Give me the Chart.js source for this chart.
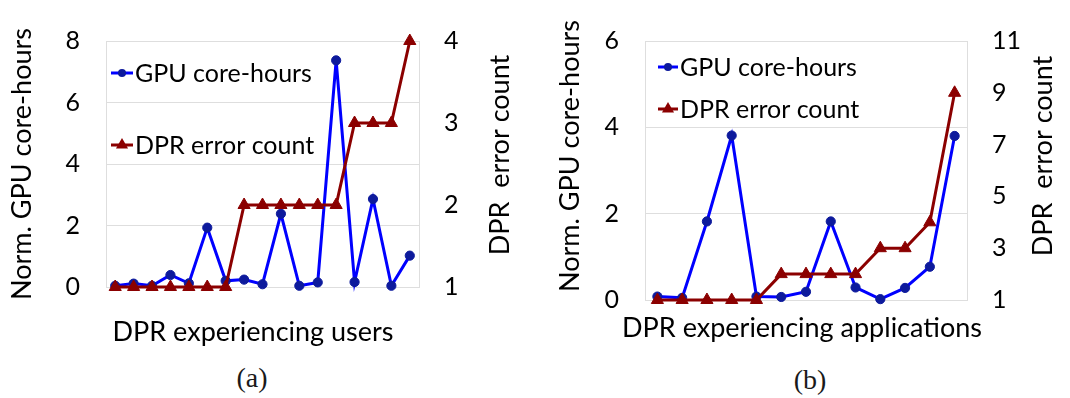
<!DOCTYPE html>
<html>
<head>
<meta charset="utf-8">
<script src="https://cdn.jsdelivr.net/npm/chart.js@4"></script>
<style>
  html, body { margin: 0; padding: 0; background: #fff; }
  body { width: 1070px; height: 398px; position: relative; overflow: hidden; }
  .panel { position: absolute; top: 0; width: 535px; height: 350px; }
  .cap { position: absolute; font-family: "Liberation Serif", "DejaVu Serif", serif; font-size: 28px;
         color: #1a1a1a; transform: translate(-50%, -50%); white-space: nowrap; }
</style>
</head>
<body>
<div class="panel" style="left:0"><canvas id="users"></canvas></div>
<div class="panel" style="left:535px"><canvas id="apps"></canvas></div>
<div class="cap" style="left:252px;top:378px">(a)</div>
<div class="cap" style="left:810px;top:380px">(b)</div>
<script>
// (a) one entry per user that hit a DPR error
const userLabels = ['u1','u2','u3','u4','u5','u6','u7','u8','u9','u10','u11','u12','u13','u14','u15','u16','u17'];
const userCoreHours = [0.04, 0.11, 0.04, 0.39, 0.12, 1.93, 0.20, 0.24, 0.09, 2.38, 0.04, 0.15, 7.37, 0.16, 2.86, 0.04, 1.02];
const userErrors    = [1, 1, 1, 1, 1, 1, 1, 2, 2, 2, 2, 2, 2, 3, 3, 3, 4];
const userHourTicks  = [0, 2, 4, 6, 8];
const userErrorTicks = [1, 2, 3, 4];

// (b) one entry per application that hit a DPR error
const appLabels = ['a1','a2','a3','a4','a5','a6','a7','a8','a9','a10','a11','a12','a13'];
const appCoreHours = [0.08, 0.05, 1.82, 3.81, 0.08, 0.07, 0.19, 1.82, 0.29, 0.02, 0.28, 0.77, 3.80];
const appErrors    = [1, 1, 1, 1, 1, 2, 2, 2, 2, 3, 3, 4, 9];
const appHourTicks  = [0, 2, 4, 6];
const appErrorTicks = [1, 3, 5, 7, 9, 11];

const seriesNames = ['GPU core-hours', 'DPR error count'];
const hoursTitle = 'Norm. GPU core-hours';
const errorsTitle = 'DPR  error count';

const FONT = 'Lato, "Open Sans", sans-serif';
const TEXT = '#000';
const BLUE_LINE = '#0000ff';
const BLUE_DOT = '#0d1a9c';
const RED = '#8b0000';
const GRID = '#dedede';

// Titles drawn on canvas (the right-hand title reads bottom-to-top like the left one)
const axisTitles = {
  id: 'axisTitles',
  afterDraw(chart, args, opts) {
    const ctx = chart.ctx;
    ctx.save();
    ctx.fillStyle = TEXT;
    ctx.textAlign = 'center';
    ctx.textBaseline = 'middle';
    for (const t of opts.items) {
      ctx.save();
      ctx.font = t.font;
      ctx.translate(t.x, t.y);
      if (t.vertical) ctx.rotate(-Math.PI / 2);
      ctx.fillText(t.text, 0, 0);
      ctx.restore();
    }
    ctx.restore();
  }
};

// Legend placed inside the plot area: a short line with the marker on it
const insetLegend = {
  id: 'insetLegend',
  afterDatasetsDraw(chart, args, opts) {
    const { ctx, chartArea } = chart;
    const x0 = chartArea.left + opts.left;
    const len = opts.lineLength;
    chart.data.datasets.forEach((ds, i) => {
      const y = chartArea.top + opts.rows[i];
      const cx = x0 + len / 2;
      ctx.save();
      ctx.strokeStyle = ds.borderColor;
      ctx.lineWidth = ds.borderWidth;
      ctx.beginPath();
      ctx.moveTo(x0, y);
      ctx.lineTo(x0 + len, y);
      ctx.stroke();
      ctx.fillStyle = ds.pointBackgroundColor;
      ctx.beginPath();
      if (ds.pointStyle === 'triangle') {
        const r = opts.triangleRadius;
        ctx.moveTo(cx, y - r);
        ctx.lineTo(cx + r * Math.sin(2 * Math.PI / 3), y + r / 2);
        ctx.lineTo(cx - r * Math.sin(2 * Math.PI / 3), y + r / 2);
        ctx.closePath();
      } else {
        ctx.arc(cx, y, opts.circleRadius, 0, Math.PI * 2);
      }
      ctx.fill();
      ctx.fillStyle = TEXT;
      ctx.font = opts.font;
      ctx.textAlign = 'left';
      ctx.textBaseline = 'middle';
      ctx.fillText(ds.label, x0 + len + 2, y + 1);
      ctx.restore();
    });
  }
};

function fixedTicks(values) {
  return function (scale) { scale.ticks = values.map(v => ({ value: v })); };
}

function buildChart(id, cfg) {
  const tickFont = { family: FONT, size: 25 };
  return new Chart(document.getElementById(id), {
    type: 'line',
    data: {
      labels: cfg.labels,
      datasets: [
        {
          label: seriesNames[0],
          data: cfg.hours,
          yAxisID: 'y',
          borderColor: BLUE_LINE,
          borderWidth: 3,
          pointStyle: 'circle',
          pointRadius: 4.6,
          pointBackgroundColor: BLUE_DOT,
          pointBorderColor: BLUE_DOT,
          pointBorderWidth: 1,
          tension: 0,
          clip: false,
          order: 2
        },
        {
          label: seriesNames[1],
          data: cfg.errors,
          yAxisID: 'y1',
          borderColor: RED,
          borderWidth: 3,
          pointStyle: 'triangle',
          pointRadius: 7,
          pointBackgroundColor: RED,
          pointBorderColor: RED,
          pointBorderWidth: 1,
          tension: 0,
          clip: false,
          order: 1
        }
      ]
    },
    options: {
      responsive: true,
      maintainAspectRatio: false,
      animation: false,
      events: [],
      layout: { padding: { top: cfg.top, left: 0, right: 0, bottom: 0 } },
      scales: {
        x: {
          offset: true,
          ticks: { display: false },
          grid: { display: false, drawTicks: false },
          border: { display: true, color: GRID, width: 1 },
          afterFit(s) { s.height = cfg.xHeight; }
        },
        y: {
          position: 'left',
          min: cfg.hourTicks[0],
          max: cfg.hourTicks[cfg.hourTicks.length - 1],
          afterBuildTicks: fixedTicks(cfg.hourTicks),
          ticks: { font: tickFont, color: TEXT, padding: 26 },
          grid: { color: GRID, lineWidth: 1, drawTicks: false },
          border: { display: true, color: GRID, width: 1 },
          afterFit(s) { s.width = cfg.leftWidth; }
        },
        y1: {
          position: 'right',
          min: cfg.errorTicks[0],
          max: cfg.errorTicks[cfg.errorTicks.length - 1],
          afterBuildTicks: fixedTicks(cfg.errorTicks),
          ticks: { font: tickFont, color: TEXT, padding: 25 },
          grid: { display: false, drawTicks: false },
          border: { display: true, color: GRID, width: 1 },
          afterFit(s) { s.width = cfg.rightWidth; }
        }
      },
      plugins: {
        legend: { display: false },
        tooltip: { enabled: false },
        insetLegend: cfg.legend,
        axisTitles: { items: cfg.titles }
      }
    },
    plugins: [insetLegend, axisTitles]
  });
}

const titleFont = '27px ' + FONT;
const legendFont = '25px ' + FONT;

buildChart('users', {
  labels: userLabels, hours: userCoreHours, errors: userErrors,
  hourTicks: userHourTicks, errorTicks: userErrorTicks,
  top: 19, xHeight: 63, leftWidth: 106, rightWidth: 116,
  legend: { left: 5, lineLength: 22, rows: [32, 104], circleRadius: 4, triangleRadius: 7, font: legendFont },
  titles: [
    { text: hoursTitle, x: 22, y: 164, vertical: true, font: titleFont },
    { text: errorsTitle, x: 500, y: 155, vertical: true, font: titleFont },
    { text: 'DPR experiencing users', x: 253, y: 332, font: titleFont }
  ]
});

buildChart('apps', {
  labels: appLabels, hours: appCoreHours, errors: appErrors,
  hourTicks: appHourTicks, errorTicks: appErrorTicks,
  top: 11, xHeight: 50, leftWidth: 110, rightWidth: 103,
  legend: { left: 13, lineLength: 20, rows: [26, 68], circleRadius: 4, triangleRadius: 7, font: legendFont },
  titles: [
    { text: hoursTitle, x: 35, y: 156, vertical: true, font: titleFont },
    { text: errorsTitle, x: 508, y: 156, vertical: true, font: titleFont },
    { text: 'DPR experiencing applications', x: 267, y: 328, font: titleFont }
  ]
});
</script>
</body>
</html>
